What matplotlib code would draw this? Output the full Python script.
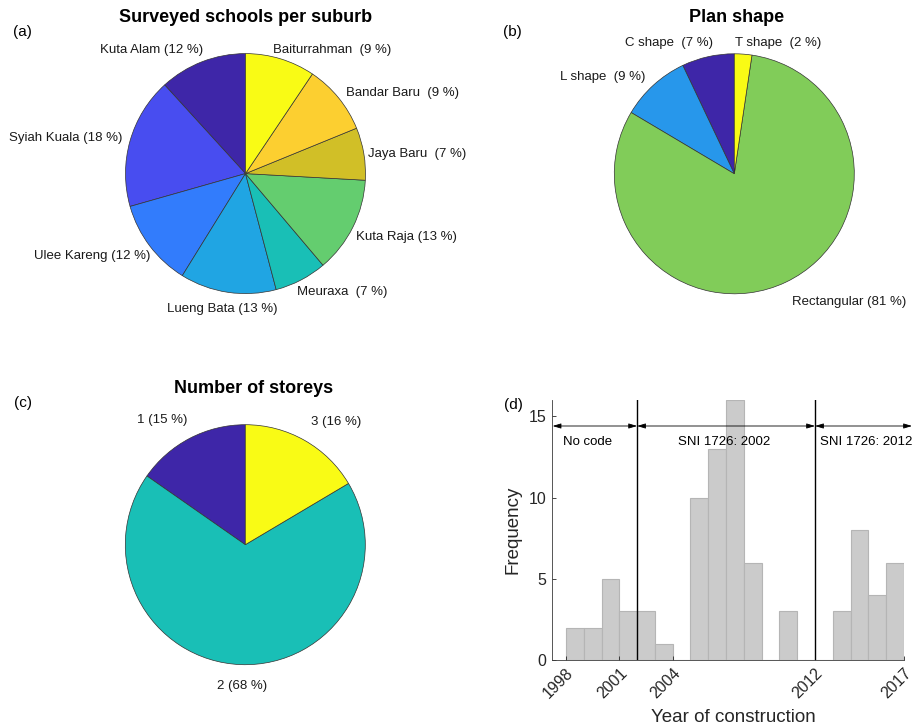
import matplotlib
matplotlib.use('Agg')
import matplotlib.pyplot as plt
import numpy as np

plt.rcParams['font.family'] = ['Liberation Sans', 'DejaVu Sans']

# ---------------- data ----------------
suburb_names = ['Kuta Alam', 'Syiah Kuala', 'Ulee Kareng', 'Lueng Bata', 'Meuraxa',
                'Kuta Raja', 'Jaya Baru', 'Bandar Baru', 'Baiturrahman']
suburb_counts = [10, 15, 10, 11, 6, 11, 6, 8, 8]

shape_names = ['C shape', 'L shape', 'Rectangular', 'T shape']
shape_counts = [6, 8, 69, 2]

storey_names = ['1', '2', '3']
storey_counts = [13, 58, 14]

year_edges = list(range(1998, 2018))
year_counts = [2, 2, 5, 3, 3, 1, 0, 10, 13, 16, 6, 0, 3, 0, 0, 3, 8, 4, 6]

code_years = [2002, 2012]
code_labels = ['No code', 'SNI 1726: 2002', 'SNI 1726: 2012']
x_ticks = [1998, 2001, 2004, 2012, 2017]
y_ticks = [0, 5, 10, 15]

# MATLAB parula (64-entry) rows used by the pies
PARULA = {1: (0.2422, 0.1504, 0.6603), 9: (0.2813, 0.3006, 0.9414),
          17: (0.1963, 0.4847, 0.9892), 22: (0.1540, 0.5902, 0.9218),
          25: (0.1248, 0.6459, 0.8883), 33: (0.0964, 0.7500, 0.7120),
          41: (0.3909, 0.8029, 0.4354), 43: (0.5044, 0.7993, 0.3480),
          49: (0.8203, 0.7498, 0.1535), 57: (0.9892, 0.8136, 0.1885),
          64: (0.9769, 0.9839, 0.0805)}


def parula_colors(n):
    out = []
    for i in range(n):
        idx = min(int((i / (n - 1)) * 64) + 1, 64)
        out.append(PARULA[idx])
    return out


def make_labels(names, counts):
    tot = sum(counts)
    labs = []
    for nm, c in zip(names, counts):
        p = int(round(100 * c / tot))
        sep = '  ' if p < 10 else ' '
        labs.append(f'{nm}{sep}({p} %)')
    return labs


W, H = 913, 727
fig = plt.figure(figsize=(W / 100, H / 100), dpi=100)
FS_LAB = 9.5
FS_TITLE = 13


def pie_axes(cx, cy, size=300):
    return fig.add_axes([(cx - size / 2) / W, (H - cy - size / 2) / H, size / W, size / H])


def draw_pie(ax, counts, names, nudges):
    wedges, _ = ax.pie(counts, colors=parula_colors(len(counts)), startangle=90,
                       counterclock=True, radius=1.0,
                       wedgeprops=dict(edgecolor='#333333', linewidth=0.5))
    ax.set_xlim(-1.25, 1.25)
    ax.set_ylim(-1.25, 1.25)
    ax.set_aspect('equal')
    ax.axis('off')
    labels = make_labels(names, counts)
    for w, lab, (dx, dy) in zip(wedges, labels, nudges):
        mid = np.deg2rad((w.theta1 + w.theta2) / 2)
        c, s = np.cos(mid), np.sin(mid)
        if s < -0.95:
            ha = 'center'
        else:
            ha = 'left' if c > 0 else 'right'
        ax.annotate(lab, xy=(1.1 * c, 1.1 * s), xytext=(dx, -dy),
                    textcoords='offset pixels', ha=ha, va='center',
                    fontsize=FS_LAB, color='#1a1a1a', annotation_clip=False)


# (a)
ax_a = pie_axes(245.5, 173.6)
draw_pie(ax_a, suburb_counts, suburb_names,
         [(5.7, -1), (3.6, 1), (10, 2.6), (-4, 4.7), (-10, 1.7), (-8, 4.7),
          (-7.8, 2.6), (-1.4, 2.7), (-10.8, 2.3)])
fig.text(245.3 / W, 1 - 17.3 / H, 'Surveyed schools per suburb', ha='center', va='center',
         fontsize=FS_TITLE, fontweight='bold')

# (b)
ax_b = pie_axes(734.3, 173.8)
draw_pie(ax_b, shape_counts, shape_names, [(8, -1.7), (0, 1), (0.8, 9.3), (-9, 1)])
fig.text(737 / W, 1 - 17.3 / H, 'Plan shape', ha='center', va='center',
         fontsize=FS_TITLE, fontweight='bold')

# (c)
ax_c = pie_axes(245.3, 544.7)
draw_pie(ax_c, storey_counts, storey_names, [(2.6, -7.4), (1.3, 9.8), (0.9, -8)])
fig.text(253.7 / W, 1 - 388.3 / H, 'Number of storeys', ha='center', va='center',
         fontsize=FS_TITLE, fontweight='bold')

# panel letters
for txt, x, y in [('(a)', 22.8, 32.3), ('(b)', 512, 32.3), ('(c)', 22.8, 403), ('(d)', 513, 405)]:
    fig.text(x / W, 1 - y / H, txt, ha='center', va='center', fontsize=11)

# (d) histogram
L, R, T, B = 551.7, 904, 400, 660
ax_d = fig.add_axes([L / W, (H - B) / H, (R - L) / W, (B - T) / H])
ax_d.bar(year_edges[:-1], year_counts, width=1, align='edge', color='#cbcbcb',
         edgecolor='#b5b5b5', linewidth=0.8)
ax_d.set_xlim(1997.2, 2017)
ax_d.set_ylim(0, 16)
ax_d.set_xticks(x_ticks)
ax_d.set_yticks(y_ticks)
ax_d.set_xticklabels([str(t) for t in x_ticks], rotation=45, ha='right',
                     rotation_mode='anchor')
for sp in ['top', 'right']:
    ax_d.spines[sp].set_visible(False)
for sp in ['left', 'bottom']:
    ax_d.spines[sp].set_color('#3a3a3a')
    ax_d.spines[sp].set_linewidth(0.6)
ax_d.tick_params(direction='in', length=3, width=0.6, colors='#262626',
                 labelsize=11.5, pad=4)
ax_d.set_xlabel('Year of construction', fontsize=13.5, color='#262626')
ax_d.set_ylabel('Frequency', fontsize=13.5, color='#262626')
ax_d.xaxis.set_label_coords(0.517, -0.19)
ax_d.yaxis.set_label_coords(-0.085, 0.5)

for yr in code_years:
    ax_d.axvline(yr, color='k', lw=1.0)

arrow_y, text_y = 14.4, 13.4
xl0, xl1 = ax_d.get_xlim()
segs = [(xl0 + 0.05, code_years[0]), (code_years[0], code_years[1]), (code_years[1], xl1 + 0.45)]
text_x = [1999.2, 2006.9, 2014.85]
for (x0, x1), lab, tx in zip(segs, code_labels, text_x):
    ax_d.annotate('', xy=(x1, arrow_y), xytext=(x0, arrow_y),
                  arrowprops=dict(arrowstyle='<|-|>,head_length=0.5,head_width=0.15',
                                  color='k', lw=0.6, shrinkA=0, shrinkB=0),
                  annotation_clip=False)
    ax_d.text(tx, text_y, lab, ha='center', va='center', fontsize=9.5, clip_on=False)

fig.savefig('out.png', dpi=100)
